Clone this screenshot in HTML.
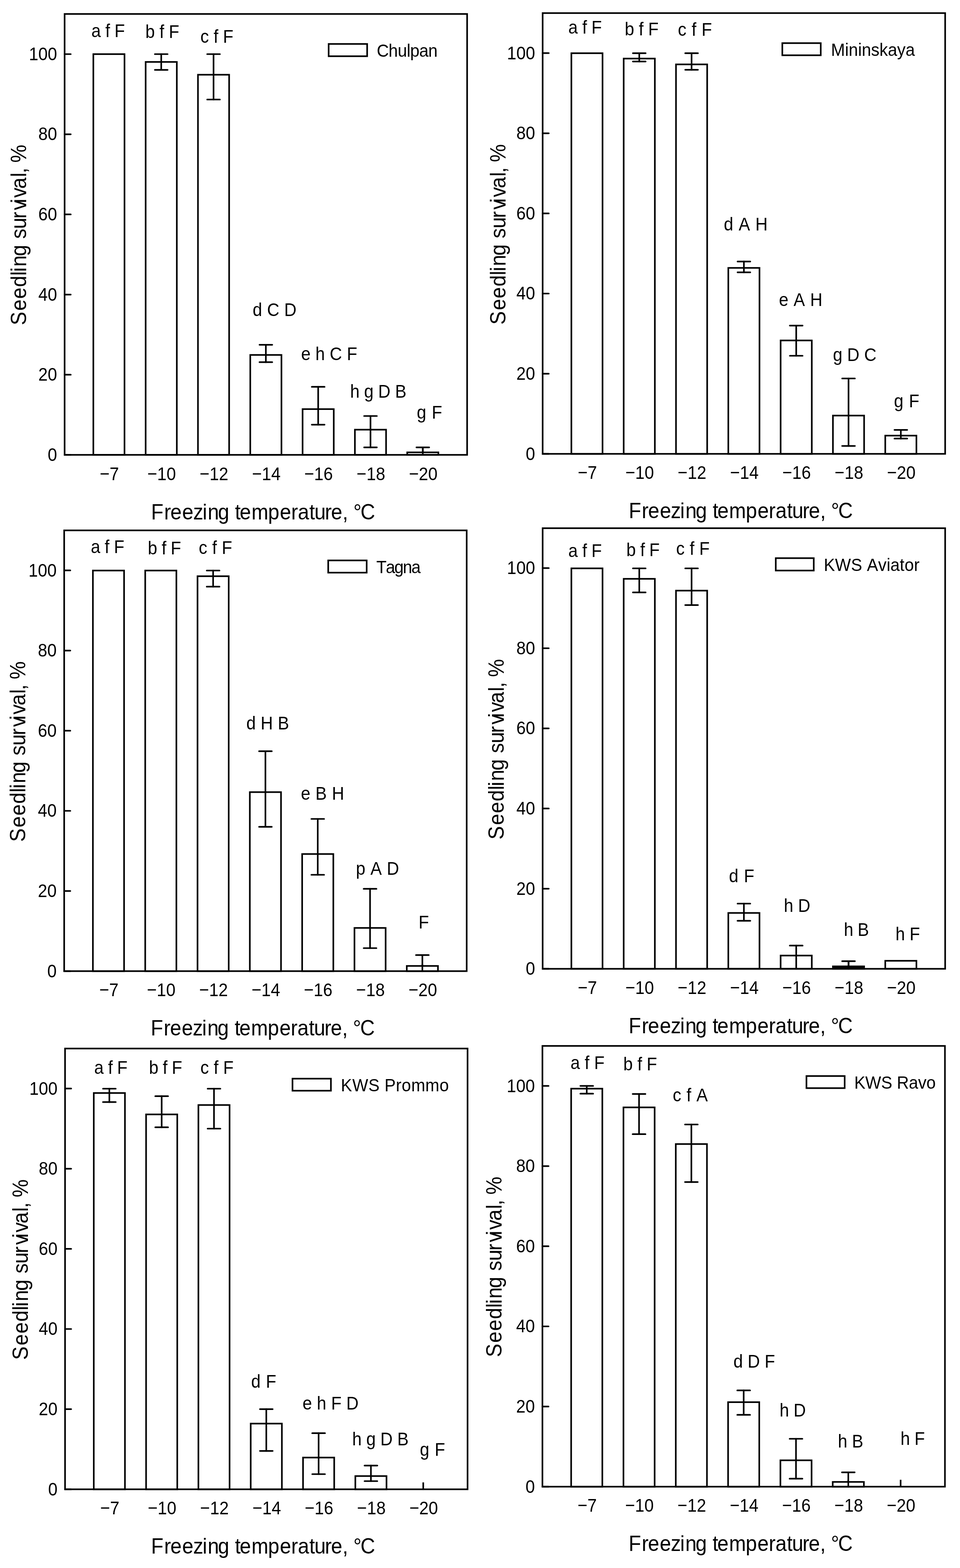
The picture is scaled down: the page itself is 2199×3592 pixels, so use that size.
<!DOCTYPE html>
<html><head><meta charset="utf-8"><title>Seedling survival</title>
<style>
html,body{margin:0;padding:0;background:#fff;overflow:hidden;}
svg{display:block;}
text{font-family:"Liberation Sans",Arial,sans-serif;fill:#000;font-kerning:none;font-variant-ligatures:none;}
.fr{fill:none;stroke:#000;stroke-width:3.7;}
.b{fill:#fff;stroke:#000;stroke-width:3.7;}
.bk{fill:#000;stroke:#000;stroke-width:3.7;}
.lg{fill:#fff;stroke:#000;stroke-width:3.7;}
.t{stroke:#000;stroke-width:3.7;stroke-linecap:round;}
.k{stroke:#000;stroke-width:3.7;}
.e{stroke:#000;stroke-width:3.7;stroke-linecap:round;}
</style></head>
<body>
<svg width="2199" height="3592" viewBox="0 0 2199 3592">
<rect width="2199" height="3592" fill="#fff"/>
<g><line x1="249.5" y1="1042" x2="249.5" y2="1026.15" class="k"/><line x1="369.33" y1="1042" x2="369.33" y2="1026.15" class="k"/><line x1="489.16" y1="1042" x2="489.16" y2="1026.15" class="k"/><line x1="608.99" y1="1042" x2="608.99" y2="1026.15" class="k"/><line x1="728.82" y1="1042" x2="728.82" y2="1026.15" class="k"/><line x1="848.65" y1="1042" x2="848.65" y2="1026.15" class="k"/><line x1="968.48" y1="1042" x2="968.48" y2="1026.15" class="k"/><line x1="148" y1="1042" x2="162" y2="1042" class="t"/><text transform="translate(130.7,1055.8) scale(1,1.1)" style="font-size:38.7px" text-anchor="end">0</text><line x1="148" y1="858.4" x2="162" y2="858.4" class="t"/><text transform="translate(130.7,872.2) scale(1,1.1)" style="font-size:38.7px" text-anchor="end">20</text><line x1="148" y1="674.8" x2="162" y2="674.8" class="t"/><text transform="translate(130.7,688.6) scale(1,1.1)" style="font-size:38.7px" text-anchor="end">40</text><line x1="148" y1="491.2" x2="162" y2="491.2" class="t"/><text transform="translate(130.7,505) scale(1,1.1)" style="font-size:38.7px" text-anchor="end">60</text><line x1="148" y1="307.6" x2="162" y2="307.6" class="t"/><text transform="translate(130.7,321.4) scale(1,1.1)" style="font-size:38.7px" text-anchor="end">80</text><line x1="148" y1="124" x2="162" y2="124" class="t"/><text transform="translate(130.7,137.8) scale(1,1.1)" style="font-size:38.7px" text-anchor="end">100</text><rect x="213.8" y="124" width="71.4" height="918" class="b"/><rect x="333.63" y="141.9" width="71.4" height="900.1" class="b"/><rect x="453.46" y="171.2" width="71.4" height="870.8" class="b"/><rect x="573.29" y="813.1" width="71.4" height="228.9" class="b"/><rect x="693.12" y="937.2" width="71.4" height="104.8" class="b"/><rect x="812.95" y="984.3" width="71.4" height="57.7" class="b"/><rect x="932.78" y="1036.3" width="71.4" height="5.7" class="b"/><line x1="369.33" y1="124" x2="369.33" y2="160.1" class="e"/><line x1="354.73" y1="124" x2="383.93" y2="124" class="e"/><line x1="354.73" y1="160.1" x2="383.93" y2="160.1" class="e"/><line x1="489.16" y1="124" x2="489.16" y2="228" class="e"/><line x1="474.56" y1="124" x2="503.76" y2="124" class="e"/><line x1="474.56" y1="228" x2="503.76" y2="228" class="e"/><line x1="608.99" y1="789.8" x2="608.99" y2="829.7" class="e"/><line x1="594.39" y1="789.8" x2="623.59" y2="789.8" class="e"/><line x1="594.39" y1="829.7" x2="623.59" y2="829.7" class="e"/><line x1="728.82" y1="886.2" x2="728.82" y2="972.8" class="e"/><line x1="714.22" y1="886.2" x2="743.42" y2="886.2" class="e"/><line x1="714.22" y1="972.8" x2="743.42" y2="972.8" class="e"/><line x1="848.65" y1="953" x2="848.65" y2="1024.8" class="e"/><line x1="834.05" y1="953" x2="863.25" y2="953" class="e"/><line x1="834.05" y1="1024.8" x2="863.25" y2="1024.8" class="e"/><line x1="968.48" y1="1024.8" x2="968.48" y2="1042" class="e"/><line x1="953.88" y1="1024.8" x2="983.08" y2="1024.8" class="e"/><rect x="148" y="32" width="922" height="1010" class="fr"/><text transform="translate(250.5,1099.5) scale(1,1.1)" style="font-size:38.7px" text-anchor="middle">−7</text><text transform="translate(370.33,1099.5) scale(1,1.1)" style="font-size:38.7px" text-anchor="middle">−10</text><text transform="translate(490.16,1099.5) scale(1,1.1)" style="font-size:38.7px" text-anchor="middle">−12</text><text transform="translate(609.99,1099.5) scale(1,1.1)" style="font-size:38.7px" text-anchor="middle">−14</text><text transform="translate(729.82,1099.5) scale(1,1.1)" style="font-size:38.7px" text-anchor="middle">−16</text><text transform="translate(849.65,1099.5) scale(1,1.1)" style="font-size:38.7px" text-anchor="middle">−18</text><text transform="translate(969.48,1099.5) scale(1,1.1)" style="font-size:38.7px" text-anchor="middle">−20</text><text transform="translate(209.24,85) scale(1,1.07)" style="font-size:39px;word-spacing:-0.6px">a f F</text><text transform="translate(332.99,86.6) scale(1,1.07)" style="font-size:39px;word-spacing:-0.17px">b f F</text><text transform="translate(458.94,98.1) scale(1,1.07)" style="font-size:39px;word-spacing:-0.11px">c f F</text><text transform="translate(578.86,724.2) scale(1,1.07)" style="font-size:39px;word-spacing:0.36px">d C D</text><text transform="translate(689.74,824.7) scale(1,1.07)" style="font-size:39px;word-spacing:0.21px">e h C F</text><text transform="translate(801.9,910.8) scale(1,1.07)" style="font-size:39px;word-spacing:-0.3px">h g D B</text><text transform="translate(954.86,958.7) scale(1,1.07)" style="font-size:39px;word-spacing:1.55px">g F</text><rect x="752.8" y="100.7" width="88.2" height="28.1" class="lg"/><text transform="translate(862.94,129.7) scale(1,1.06)" style="font-size:38.5px;letter-spacing:-0.63px">Chulpan</text><text transform="translate(59.8,742.9) rotate(-90) scale(1,1.08)" style="font-size:46.5px" x="-2.11 31.12 58.32 85.35 111.07 120.19 132.21 156.15 182.01 195.81 218.48 242.21 261.34 277.29 289.84 310.42 337.17 345.82 358.74 370.14" y="0">Seedling survival, %</text><text transform="translate(349.9,1190.1) scale(1,1.08)" style="font-size:46.5px" x="-3.81 26.01 40.42 67.32 92.52 113.99 125.91 149.35 175.21 188.4 199.22 226.01 264.2 291.22 317.01 332.32 358.6 370.38 394.31 408.42 434.72 447.64 459.63 475.94" y="0">Freezing temperature, °C</text></g>
<g><line x1="1344.5" y1="1039.7" x2="1344.5" y2="1023.85" class="k"/><line x1="1464.33" y1="1039.7" x2="1464.33" y2="1023.85" class="k"/><line x1="1584.16" y1="1039.7" x2="1584.16" y2="1023.85" class="k"/><line x1="1703.99" y1="1039.7" x2="1703.99" y2="1023.85" class="k"/><line x1="1823.82" y1="1039.7" x2="1823.82" y2="1023.85" class="k"/><line x1="1943.65" y1="1039.7" x2="1943.65" y2="1023.85" class="k"/><line x1="2063.48" y1="1039.7" x2="2063.48" y2="1023.85" class="k"/><line x1="1243" y1="1039.7" x2="1257" y2="1039.7" class="t"/><text transform="translate(1225.7,1053.5) scale(1,1.1)" style="font-size:38.7px" text-anchor="end">0</text><line x1="1243" y1="856.1" x2="1257" y2="856.1" class="t"/><text transform="translate(1225.7,869.9) scale(1,1.1)" style="font-size:38.7px" text-anchor="end">20</text><line x1="1243" y1="672.5" x2="1257" y2="672.5" class="t"/><text transform="translate(1225.7,686.3) scale(1,1.1)" style="font-size:38.7px" text-anchor="end">40</text><line x1="1243" y1="488.9" x2="1257" y2="488.9" class="t"/><text transform="translate(1225.7,502.7) scale(1,1.1)" style="font-size:38.7px" text-anchor="end">60</text><line x1="1243" y1="305.3" x2="1257" y2="305.3" class="t"/><text transform="translate(1225.7,319.1) scale(1,1.1)" style="font-size:38.7px" text-anchor="end">80</text><line x1="1243" y1="121.7" x2="1257" y2="121.7" class="t"/><text transform="translate(1225.7,135.5) scale(1,1.1)" style="font-size:38.7px" text-anchor="end">100</text><rect x="1308.8" y="121.9" width="71.4" height="917.8" class="b"/><rect x="1428.63" y="134.2" width="71.4" height="905.5" class="b"/><rect x="1548.46" y="147.5" width="71.4" height="892.2" class="b"/><rect x="1668.29" y="613.7" width="71.4" height="426" class="b"/><rect x="1788.12" y="779.9" width="71.4" height="259.8" class="b"/><rect x="1907.95" y="952" width="71.4" height="87.7" class="b"/><rect x="2027.78" y="997.9" width="71.4" height="41.8" class="b"/><line x1="1464.33" y1="121.9" x2="1464.33" y2="140.8" class="e"/><line x1="1449.73" y1="121.9" x2="1478.93" y2="121.9" class="e"/><line x1="1449.73" y1="140.8" x2="1478.93" y2="140.8" class="e"/><line x1="1584.16" y1="121.9" x2="1584.16" y2="159.8" class="e"/><line x1="1569.56" y1="121.9" x2="1598.76" y2="121.9" class="e"/><line x1="1569.56" y1="159.8" x2="1598.76" y2="159.8" class="e"/><line x1="1703.99" y1="599.1" x2="1703.99" y2="623.8" class="e"/><line x1="1689.39" y1="599.1" x2="1718.59" y2="599.1" class="e"/><line x1="1689.39" y1="623.8" x2="1718.59" y2="623.8" class="e"/><line x1="1823.82" y1="745.8" x2="1823.82" y2="815" class="e"/><line x1="1809.22" y1="745.8" x2="1838.42" y2="745.8" class="e"/><line x1="1809.22" y1="815" x2="1838.42" y2="815" class="e"/><line x1="1943.65" y1="867" x2="1943.65" y2="1021.6" class="e"/><line x1="1929.05" y1="867" x2="1958.25" y2="867" class="e"/><line x1="1929.05" y1="1021.6" x2="1958.25" y2="1021.6" class="e"/><line x1="2063.48" y1="984.8" x2="2063.48" y2="1004.7" class="e"/><line x1="2048.88" y1="984.8" x2="2078.08" y2="984.8" class="e"/><line x1="2048.88" y1="1004.7" x2="2078.08" y2="1004.7" class="e"/><rect x="1243" y="30" width="922" height="1009.7" class="fr"/><text transform="translate(1345.5,1097.2) scale(1,1.1)" style="font-size:38.7px" text-anchor="middle">−7</text><text transform="translate(1465.33,1097.2) scale(1,1.1)" style="font-size:38.7px" text-anchor="middle">−10</text><text transform="translate(1585.16,1097.2) scale(1,1.1)" style="font-size:38.7px" text-anchor="middle">−12</text><text transform="translate(1704.99,1097.2) scale(1,1.1)" style="font-size:38.7px" text-anchor="middle">−14</text><text transform="translate(1824.82,1097.2) scale(1,1.1)" style="font-size:38.7px" text-anchor="middle">−16</text><text transform="translate(1944.65,1097.2) scale(1,1.1)" style="font-size:38.7px" text-anchor="middle">−18</text><text transform="translate(2064.48,1097.2) scale(1,1.1)" style="font-size:38.7px" text-anchor="middle">−20</text><text transform="translate(1301.84,76.6) scale(1,1.07)" style="font-size:39px;word-spacing:-0.6px">a f F</text><text transform="translate(1430.99,80.8) scale(1,1.07)" style="font-size:39px;word-spacing:-0.17px">b f F</text><text transform="translate(1552.84,81.5) scale(1,1.07)" style="font-size:39px;word-spacing:1.09px">c f F</text><text transform="translate(1657.96,527.8) scale(1,1.07)" style="font-size:39px;word-spacing:1.49px">d A H</text><text transform="translate(1784.14,700.8) scale(1,1.07)" style="font-size:39px;word-spacing:1.1px">e A H</text><text transform="translate(1908.06,826.6) scale(1,1.07)" style="font-size:39px;word-spacing:-0.08px">g D C</text><text transform="translate(2047.86,933) scale(1,1.07)" style="font-size:39px;word-spacing:1.75px">g F</text><rect x="1792" y="98.8" width="88" height="27.8" class="lg"/><text transform="translate(1903.54,128) scale(1,1.06)" style="font-size:38.5px;letter-spacing:-0.05px">Mininskaya</text><text transform="translate(1157.8,741.7) rotate(-90) scale(1,1.08)" style="font-size:46.5px" x="-2.11 31.12 58.32 85.35 111.07 120.19 132.21 156.15 182.01 195.81 218.48 242.21 261.34 277.29 289.84 310.42 337.17 345.82 358.74 370.14" y="0">Seedling survival, %</text><text transform="translate(1444.1,1187.4) scale(1,1.08)" style="font-size:46.5px" x="-3.81 26.01 40.42 67.32 92.52 113.99 125.91 149.35 175.21 188.4 199.22 226.01 264.2 291.22 317.01 332.32 358.6 370.38 394.31 408.42 434.72 447.64 459.63 475.94" y="0">Freezing temperature, °C</text></g>
<g><line x1="248.5" y1="2224.7" x2="248.5" y2="2208.85" class="k"/><line x1="368.33" y1="2224.7" x2="368.33" y2="2208.85" class="k"/><line x1="488.16" y1="2224.7" x2="488.16" y2="2208.85" class="k"/><line x1="607.99" y1="2224.7" x2="607.99" y2="2208.85" class="k"/><line x1="727.82" y1="2224.7" x2="727.82" y2="2208.85" class="k"/><line x1="847.65" y1="2224.7" x2="847.65" y2="2208.85" class="k"/><line x1="967.48" y1="2224.7" x2="967.48" y2="2208.85" class="k"/><line x1="147" y1="2224.7" x2="161" y2="2224.7" class="t"/><text transform="translate(129.7,2238.5) scale(1,1.1)" style="font-size:38.7px" text-anchor="end">0</text><line x1="147" y1="2041.1" x2="161" y2="2041.1" class="t"/><text transform="translate(129.7,2054.9) scale(1,1.1)" style="font-size:38.7px" text-anchor="end">20</text><line x1="147" y1="1857.5" x2="161" y2="1857.5" class="t"/><text transform="translate(129.7,1871.3) scale(1,1.1)" style="font-size:38.7px" text-anchor="end">40</text><line x1="147" y1="1673.9" x2="161" y2="1673.9" class="t"/><text transform="translate(129.7,1687.7) scale(1,1.1)" style="font-size:38.7px" text-anchor="end">60</text><line x1="147" y1="1490.3" x2="161" y2="1490.3" class="t"/><text transform="translate(129.7,1504.1) scale(1,1.1)" style="font-size:38.7px" text-anchor="end">80</text><line x1="147" y1="1306.7" x2="161" y2="1306.7" class="t"/><text transform="translate(129.7,1320.5) scale(1,1.1)" style="font-size:38.7px" text-anchor="end">100</text><rect x="212.8" y="1307" width="71.4" height="917.7" class="b"/><rect x="332.63" y="1307" width="71.4" height="917.7" class="b"/><rect x="452.46" y="1320" width="71.4" height="904.7" class="b"/><rect x="572.29" y="1814.6" width="71.4" height="410.1" class="b"/><rect x="692.12" y="1956.4" width="71.4" height="268.3" class="b"/><rect x="811.95" y="2125.7" width="71.4" height="99" class="b"/><rect x="931.78" y="2212.8" width="71.4" height="11.9" class="b"/><line x1="488.16" y1="1307" x2="488.16" y2="1343.9" class="e"/><line x1="473.56" y1="1307" x2="502.76" y2="1307" class="e"/><line x1="473.56" y1="1343.9" x2="502.76" y2="1343.9" class="e"/><line x1="607.99" y1="1720.9" x2="607.99" y2="1894.1" class="e"/><line x1="593.39" y1="1720.9" x2="622.59" y2="1720.9" class="e"/><line x1="593.39" y1="1894.1" x2="622.59" y2="1894.1" class="e"/><line x1="727.82" y1="1876" x2="727.82" y2="2004" class="e"/><line x1="713.22" y1="1876" x2="742.42" y2="1876" class="e"/><line x1="713.22" y1="2004" x2="742.42" y2="2004" class="e"/><line x1="847.65" y1="2036.2" x2="847.65" y2="2172" class="e"/><line x1="833.05" y1="2036.2" x2="862.25" y2="2036.2" class="e"/><line x1="833.05" y1="2172" x2="862.25" y2="2172" class="e"/><line x1="967.48" y1="2187.9" x2="967.48" y2="2224.7" class="e"/><line x1="952.88" y1="2187.9" x2="982.08" y2="2187.9" class="e"/><rect x="147" y="1215" width="922" height="1009.7" class="fr"/><text transform="translate(249.5,2282.2) scale(1,1.1)" style="font-size:38.7px" text-anchor="middle">−7</text><text transform="translate(369.33,2282.2) scale(1,1.1)" style="font-size:38.7px" text-anchor="middle">−10</text><text transform="translate(489.16,2282.2) scale(1,1.1)" style="font-size:38.7px" text-anchor="middle">−12</text><text transform="translate(608.99,2282.2) scale(1,1.1)" style="font-size:38.7px" text-anchor="middle">−14</text><text transform="translate(728.82,2282.2) scale(1,1.1)" style="font-size:38.7px" text-anchor="middle">−16</text><text transform="translate(848.65,2282.2) scale(1,1.1)" style="font-size:38.7px" text-anchor="middle">−18</text><text transform="translate(968.48,2282.2) scale(1,1.1)" style="font-size:38.7px" text-anchor="middle">−20</text><text transform="translate(207.94,1266.6) scale(1,1.07)" style="font-size:39px;word-spacing:-0.6px">a f F</text><text transform="translate(338.39,1269.8) scale(1,1.07)" style="font-size:39px;word-spacing:-0.77px">b f F</text><text transform="translate(455.24,1268.6) scale(1,1.07)" style="font-size:39px;word-spacing:0.39px">c f F</text><text transform="translate(564.16,1671) scale(1,1.07)" style="font-size:39px;word-spacing:0.28px">d H B</text><text transform="translate(689.24,1832.4) scale(1,1.07)" style="font-size:39px;word-spacing:0.85px">e B H</text><text transform="translate(815.29,2003.7) scale(1,1.07)" style="font-size:39px;word-spacing:0.67px">p A D</text><text transform="translate(958.8,2127) scale(1,1.07)" style="font-size:39px">F</text><rect x="751.8" y="1283.8" width="88.1" height="28" class="lg"/><text transform="translate(862.04,1313.3) scale(1,1.06)" style="font-size:38.5px;letter-spacing:-1.88px">Tagna</text><text transform="translate(57.8,1926.5) rotate(-90) scale(1,1.08)" style="font-size:46.5px" x="-2.11 31.12 58.32 85.35 111.07 120.19 132.21 156.15 182.01 195.81 218.48 242.21 261.34 277.29 289.84 310.42 337.17 345.82 358.74 370.14" y="0">Seedling survival, %</text><text transform="translate(349,2372) scale(1,1.08)" style="font-size:46.5px" x="-3.81 26.01 40.42 67.32 92.52 113.99 125.91 149.35 175.21 188.4 199.22 226.01 264.2 291.22 317.01 332.32 358.6 370.38 394.31 408.42 434.72 447.64 459.63 475.94" y="0">Freezing temperature, °C</text></g>
<g><line x1="1344.5" y1="2219.4" x2="1344.5" y2="2203.55" class="k"/><line x1="1464.33" y1="2219.4" x2="1464.33" y2="2203.55" class="k"/><line x1="1584.16" y1="2219.4" x2="1584.16" y2="2203.55" class="k"/><line x1="1703.99" y1="2219.4" x2="1703.99" y2="2203.55" class="k"/><line x1="1823.82" y1="2219.4" x2="1823.82" y2="2203.55" class="k"/><line x1="1943.65" y1="2219.4" x2="1943.65" y2="2203.55" class="k"/><line x1="2063.48" y1="2219.4" x2="2063.48" y2="2203.55" class="k"/><line x1="1243" y1="2219.4" x2="1257" y2="2219.4" class="t"/><text transform="translate(1225.7,2233.2) scale(1,1.1)" style="font-size:38.7px" text-anchor="end">0</text><line x1="1243" y1="2035.8" x2="1257" y2="2035.8" class="t"/><text transform="translate(1225.7,2049.6) scale(1,1.1)" style="font-size:38.7px" text-anchor="end">20</text><line x1="1243" y1="1852.2" x2="1257" y2="1852.2" class="t"/><text transform="translate(1225.7,1866) scale(1,1.1)" style="font-size:38.7px" text-anchor="end">40</text><line x1="1243" y1="1668.6" x2="1257" y2="1668.6" class="t"/><text transform="translate(1225.7,1682.4) scale(1,1.1)" style="font-size:38.7px" text-anchor="end">60</text><line x1="1243" y1="1485" x2="1257" y2="1485" class="t"/><text transform="translate(1225.7,1498.8) scale(1,1.1)" style="font-size:38.7px" text-anchor="end">80</text><line x1="1243" y1="1301.4" x2="1257" y2="1301.4" class="t"/><text transform="translate(1225.7,1315.2) scale(1,1.1)" style="font-size:38.7px" text-anchor="end">100</text><rect x="1308.8" y="1302" width="71.4" height="917.4" class="b"/><rect x="1428.63" y="1326" width="71.4" height="893.4" class="b"/><rect x="1548.46" y="1353" width="71.4" height="866.4" class="b"/><rect x="1668.29" y="2091.4" width="71.4" height="128" class="b"/><rect x="1788.12" y="2189" width="71.4" height="30.4" class="b"/><rect x="1907.95" y="2213.75" width="71.4" height="5.65" class="bk"/><rect x="2027.78" y="2201" width="71.4" height="18.4" class="b"/><line x1="1464.33" y1="1302" x2="1464.33" y2="1357.1" class="e"/><line x1="1449.73" y1="1302" x2="1478.93" y2="1302" class="e"/><line x1="1449.73" y1="1357.1" x2="1478.93" y2="1357.1" class="e"/><line x1="1584.16" y1="1302" x2="1584.16" y2="1386.1" class="e"/><line x1="1569.56" y1="1302" x2="1598.76" y2="1302" class="e"/><line x1="1569.56" y1="1386.1" x2="1598.76" y2="1386.1" class="e"/><line x1="1703.99" y1="2070" x2="1703.99" y2="2109.3" class="e"/><line x1="1689.39" y1="2070" x2="1718.59" y2="2070" class="e"/><line x1="1689.39" y1="2109.3" x2="1718.59" y2="2109.3" class="e"/><line x1="1823.82" y1="2166.2" x2="1823.82" y2="2219.4" class="e"/><line x1="1809.22" y1="2166.2" x2="1838.42" y2="2166.2" class="e"/><line x1="1943.65" y1="2201.9" x2="1943.65" y2="2219.4" class="e"/><line x1="1929.05" y1="2201.9" x2="1958.25" y2="2201.9" class="e"/><rect x="1243" y="1210" width="922" height="1009.4" class="fr"/><text transform="translate(1345.5,2276.9) scale(1,1.1)" style="font-size:38.7px" text-anchor="middle">−7</text><text transform="translate(1465.33,2276.9) scale(1,1.1)" style="font-size:38.7px" text-anchor="middle">−10</text><text transform="translate(1585.16,2276.9) scale(1,1.1)" style="font-size:38.7px" text-anchor="middle">−12</text><text transform="translate(1704.99,2276.9) scale(1,1.1)" style="font-size:38.7px" text-anchor="middle">−14</text><text transform="translate(1824.82,2276.9) scale(1,1.1)" style="font-size:38.7px" text-anchor="middle">−16</text><text transform="translate(1944.65,2276.9) scale(1,1.1)" style="font-size:38.7px" text-anchor="middle">−18</text><text transform="translate(2064.48,2276.9) scale(1,1.1)" style="font-size:38.7px" text-anchor="middle">−20</text><text transform="translate(1301.84,1275.6) scale(1,1.07)" style="font-size:39px;word-spacing:-0.6px">a f F</text><text transform="translate(1434.69,1273.9) scale(1,1.07)" style="font-size:39px;word-spacing:-0.77px">b f F</text><text transform="translate(1548.84,1270.7) scale(1,1.07)" style="font-size:39px;word-spacing:0.49px">c f F</text><text transform="translate(1669.76,2020.8) scale(1,1.07)" style="font-size:39px;word-spacing:1.85px">d F</text><text transform="translate(1795.5,2089) scale(1,1.07)" style="font-size:39px;word-spacing:-0.12px">h D</text><text transform="translate(1932.9,2143.7) scale(1,1.07)" style="font-size:39px;word-spacing:-0.98px">h B</text><text transform="translate(2051.3,2153.7) scale(1,1.07)" style="font-size:39px;word-spacing:-0.28px">h F</text><rect x="1777" y="1278.6" width="87" height="28.4" class="lg"/><text transform="translate(1886.94,1307.7) scale(1,1.06)" style="font-size:38.5px;letter-spacing:0.12px">KWS Aviator</text><text transform="translate(1153.8,1921.1) rotate(-90) scale(1,1.08)" style="font-size:46.5px" x="-2.11 31.12 58.32 85.35 111.07 120.19 132.21 156.15 182.01 195.81 218.48 242.21 261.34 277.29 289.84 310.42 337.17 345.82 358.74 370.14" y="0">Seedling survival, %</text><text transform="translate(1443.9,2367.1) scale(1,1.08)" style="font-size:46.5px" x="-3.81 26.01 40.42 67.32 92.52 113.99 125.91 149.35 175.21 188.4 199.22 226.01 264.2 291.22 317.01 332.32 358.6 370.38 394.31 408.42 434.72 447.64 459.63 475.94" y="0">Freezing temperature, °C</text></g>
<g><line x1="250.5" y1="3411.7" x2="250.5" y2="3395.85" class="k"/><line x1="370.33" y1="3411.7" x2="370.33" y2="3395.85" class="k"/><line x1="490.16" y1="3411.7" x2="490.16" y2="3395.85" class="k"/><line x1="609.99" y1="3411.7" x2="609.99" y2="3395.85" class="k"/><line x1="729.82" y1="3411.7" x2="729.82" y2="3395.85" class="k"/><line x1="849.65" y1="3411.7" x2="849.65" y2="3395.85" class="k"/><line x1="969.48" y1="3411.7" x2="969.48" y2="3395.85" class="k"/><line x1="149" y1="3411.7" x2="163" y2="3411.7" class="t"/><text transform="translate(131.7,3425.5) scale(1,1.1)" style="font-size:38.7px" text-anchor="end">0</text><line x1="149" y1="3228.1" x2="163" y2="3228.1" class="t"/><text transform="translate(131.7,3241.9) scale(1,1.1)" style="font-size:38.7px" text-anchor="end">20</text><line x1="149" y1="3044.5" x2="163" y2="3044.5" class="t"/><text transform="translate(131.7,3058.3) scale(1,1.1)" style="font-size:38.7px" text-anchor="end">40</text><line x1="149" y1="2860.9" x2="163" y2="2860.9" class="t"/><text transform="translate(131.7,2874.7) scale(1,1.1)" style="font-size:38.7px" text-anchor="end">60</text><line x1="149" y1="2677.3" x2="163" y2="2677.3" class="t"/><text transform="translate(131.7,2691.1) scale(1,1.1)" style="font-size:38.7px" text-anchor="end">80</text><line x1="149" y1="2493.7" x2="163" y2="2493.7" class="t"/><text transform="translate(131.7,2507.5) scale(1,1.1)" style="font-size:38.7px" text-anchor="end">100</text><rect x="214.8" y="2503.9" width="71.4" height="907.8" class="b"/><rect x="334.63" y="2552.9" width="71.4" height="858.8" class="b"/><rect x="454.46" y="2531.4" width="71.4" height="880.3" class="b"/><rect x="574.29" y="3261.2" width="71.4" height="150.5" class="b"/><rect x="694.12" y="3339" width="71.4" height="72.7" class="b"/><rect x="813.95" y="3381.4" width="71.4" height="30.3" class="b"/><line x1="250.5" y1="2494" x2="250.5" y2="2524.7" class="e"/><line x1="235.9" y1="2494" x2="265.1" y2="2494" class="e"/><line x1="235.9" y1="2524.7" x2="265.1" y2="2524.7" class="e"/><line x1="370.33" y1="2511.2" x2="370.33" y2="2582.4" class="e"/><line x1="355.73" y1="2511.2" x2="384.93" y2="2511.2" class="e"/><line x1="355.73" y1="2582.4" x2="384.93" y2="2582.4" class="e"/><line x1="490.16" y1="2494" x2="490.16" y2="2585.5" class="e"/><line x1="475.56" y1="2494" x2="504.76" y2="2494" class="e"/><line x1="475.56" y1="2585.5" x2="504.76" y2="2585.5" class="e"/><line x1="609.99" y1="3228.1" x2="609.99" y2="3323.8" class="e"/><line x1="595.39" y1="3228.1" x2="624.59" y2="3228.1" class="e"/><line x1="595.39" y1="3323.8" x2="624.59" y2="3323.8" class="e"/><line x1="729.82" y1="3283.2" x2="729.82" y2="3377" class="e"/><line x1="715.22" y1="3283.2" x2="744.42" y2="3283.2" class="e"/><line x1="715.22" y1="3377" x2="744.42" y2="3377" class="e"/><line x1="849.65" y1="3357.3" x2="849.65" y2="3393" class="e"/><line x1="835.05" y1="3357.3" x2="864.25" y2="3357.3" class="e"/><line x1="835.05" y1="3393" x2="864.25" y2="3393" class="e"/><rect x="149" y="2402" width="922" height="1009.7" class="fr"/><text transform="translate(251.5,3469.2) scale(1,1.1)" style="font-size:38.7px" text-anchor="middle">−7</text><text transform="translate(371.33,3469.2) scale(1,1.1)" style="font-size:38.7px" text-anchor="middle">−10</text><text transform="translate(491.16,3469.2) scale(1,1.1)" style="font-size:38.7px" text-anchor="middle">−12</text><text transform="translate(610.99,3469.2) scale(1,1.1)" style="font-size:38.7px" text-anchor="middle">−14</text><text transform="translate(730.82,3469.2) scale(1,1.1)" style="font-size:38.7px" text-anchor="middle">−16</text><text transform="translate(850.65,3469.2) scale(1,1.1)" style="font-size:38.7px" text-anchor="middle">−18</text><text transform="translate(970.48,3469.2) scale(1,1.1)" style="font-size:38.7px" text-anchor="middle">−20</text><text transform="translate(215.84,2459.8) scale(1,1.07)" style="font-size:39px;word-spacing:-0.85px">a f F</text><text transform="translate(341.29,2459.8) scale(1,1.07)" style="font-size:39px;word-spacing:-1.02px">b f F</text><text transform="translate(458.94,2459.8) scale(1,1.07)" style="font-size:39px;word-spacing:0.14px">c f F</text><text transform="translate(575.16,3178.9) scale(1,1.07)" style="font-size:39px;word-spacing:1.35px">d F</text><text transform="translate(692.94,3229.2) scale(1,1.07)" style="font-size:39px;word-spacing:0.25px">e h F D</text><text transform="translate(806.8,3310.6) scale(1,1.07)" style="font-size:39px;word-spacing:-0.3px">h g D B</text><text transform="translate(961.76,3334.6) scale(1,1.07)" style="font-size:39px;word-spacing:1.55px">g F</text><rect x="670" y="2471" width="88" height="27.6" class="lg"/><text transform="translate(780.84,2499.7) scale(1,1.06)" style="font-size:38.5px;letter-spacing:0.4px">KWS Prommo</text><text transform="translate(63.9,3113.1) rotate(-90) scale(1,1.08)" style="font-size:46.5px" x="-2.11 31.12 58.32 85.35 111.07 120.19 132.21 156.15 182.01 195.81 218.48 242.21 261.34 277.29 289.84 310.42 337.17 345.82 358.74 370.14" y="0">Seedling survival, %</text><text transform="translate(349.9,3559.1) scale(1,1.08)" style="font-size:46.5px" x="-3.81 26.01 40.42 67.32 92.52 113.99 125.91 149.35 175.21 188.4 199.22 226.01 264.2 291.22 317.01 332.32 358.6 370.38 394.31 408.42 434.72 447.64 459.63 475.94" y="0">Freezing temperature, °C</text></g>
<g><line x1="1344" y1="3405.7" x2="1344" y2="3389.85" class="k"/><line x1="1463.83" y1="3405.7" x2="1463.83" y2="3389.85" class="k"/><line x1="1583.66" y1="3405.7" x2="1583.66" y2="3389.85" class="k"/><line x1="1703.49" y1="3405.7" x2="1703.49" y2="3389.85" class="k"/><line x1="1823.32" y1="3405.7" x2="1823.32" y2="3389.85" class="k"/><line x1="1943.15" y1="3405.7" x2="1943.15" y2="3389.85" class="k"/><line x1="2062.98" y1="3405.7" x2="2062.98" y2="3389.85" class="k"/><line x1="1242.5" y1="3405.7" x2="1256.5" y2="3405.7" class="t"/><text transform="translate(1225.2,3419.5) scale(1,1.1)" style="font-size:38.7px" text-anchor="end">0</text><line x1="1242.5" y1="3222.1" x2="1256.5" y2="3222.1" class="t"/><text transform="translate(1225.2,3235.9) scale(1,1.1)" style="font-size:38.7px" text-anchor="end">20</text><line x1="1242.5" y1="3038.5" x2="1256.5" y2="3038.5" class="t"/><text transform="translate(1225.2,3052.3) scale(1,1.1)" style="font-size:38.7px" text-anchor="end">40</text><line x1="1242.5" y1="2854.9" x2="1256.5" y2="2854.9" class="t"/><text transform="translate(1225.2,2868.7) scale(1,1.1)" style="font-size:38.7px" text-anchor="end">60</text><line x1="1242.5" y1="2671.3" x2="1256.5" y2="2671.3" class="t"/><text transform="translate(1225.2,2685.1) scale(1,1.1)" style="font-size:38.7px" text-anchor="end">80</text><line x1="1242.5" y1="2487.7" x2="1256.5" y2="2487.7" class="t"/><text transform="translate(1225.2,2501.5) scale(1,1.1)" style="font-size:38.7px" text-anchor="end">100</text><rect x="1308.3" y="2493.9" width="71.4" height="911.8" class="b"/><rect x="1428.13" y="2536.8" width="71.4" height="868.9" class="b"/><rect x="1547.96" y="2620.8" width="71.4" height="784.9" class="b"/><rect x="1667.79" y="3212.1" width="71.4" height="193.6" class="b"/><rect x="1787.62" y="3345.3" width="71.4" height="60.4" class="b"/><rect x="1907.45" y="3394.8" width="71.4" height="10.9" class="b"/><line x1="1344" y1="2487.7" x2="1344" y2="2505.4" class="e"/><line x1="1329.4" y1="2487.7" x2="1358.6" y2="2487.7" class="e"/><line x1="1329.4" y1="2505.4" x2="1358.6" y2="2505.4" class="e"/><line x1="1463.83" y1="2506.1" x2="1463.83" y2="2598.2" class="e"/><line x1="1449.23" y1="2506.1" x2="1478.43" y2="2506.1" class="e"/><line x1="1449.23" y1="2598.2" x2="1478.43" y2="2598.2" class="e"/><line x1="1583.66" y1="2576" x2="1583.66" y2="2707.8" class="e"/><line x1="1569.06" y1="2576" x2="1598.26" y2="2576" class="e"/><line x1="1569.06" y1="2707.8" x2="1598.26" y2="2707.8" class="e"/><line x1="1703.49" y1="3185.2" x2="1703.49" y2="3241.2" class="e"/><line x1="1688.89" y1="3185.2" x2="1718.09" y2="3185.2" class="e"/><line x1="1688.89" y1="3241.2" x2="1718.09" y2="3241.2" class="e"/><line x1="1823.32" y1="3296" x2="1823.32" y2="3387.4" class="e"/><line x1="1808.72" y1="3296" x2="1837.92" y2="3296" class="e"/><line x1="1808.72" y1="3387.4" x2="1837.92" y2="3387.4" class="e"/><line x1="1943.15" y1="3372.8" x2="1943.15" y2="3405.7" class="e"/><line x1="1928.55" y1="3372.8" x2="1957.75" y2="3372.8" class="e"/><rect x="1242.5" y="2396" width="922" height="1009.7" class="fr"/><text transform="translate(1345,3463.2) scale(1,1.1)" style="font-size:38.7px" text-anchor="middle">−7</text><text transform="translate(1464.83,3463.2) scale(1,1.1)" style="font-size:38.7px" text-anchor="middle">−10</text><text transform="translate(1584.66,3463.2) scale(1,1.1)" style="font-size:38.7px" text-anchor="middle">−12</text><text transform="translate(1704.49,3463.2) scale(1,1.1)" style="font-size:38.7px" text-anchor="middle">−14</text><text transform="translate(1824.32,3463.2) scale(1,1.1)" style="font-size:38.7px" text-anchor="middle">−16</text><text transform="translate(1944.15,3463.2) scale(1,1.1)" style="font-size:38.7px" text-anchor="middle">−18</text><text transform="translate(2063.98,3463.2) scale(1,1.1)" style="font-size:38.7px" text-anchor="middle">−20</text><text transform="translate(1306.74,2449.1) scale(1,1.07)" style="font-size:39px;word-spacing:-0px">a f F</text><text transform="translate(1427.79,2452) scale(1,1.07)" style="font-size:39px;word-spacing:-0.42px">b f F</text><text transform="translate(1541.04,2522.7) scale(1,1.07)" style="font-size:39px;word-spacing:1.11px">c f A</text><text transform="translate(1680.06,3133.1) scale(1,1.07)" style="font-size:39px;word-spacing:-0.07px">d D F</text><text transform="translate(1785.7,3244.7) scale(1,1.07)" style="font-size:39px;word-spacing:-0.42px">h D</text><text transform="translate(1919.2,3315.7) scale(1,1.07)" style="font-size:39px;word-spacing:-0.28px">h B</text><text transform="translate(2062.7,3310) scale(1,1.07)" style="font-size:39px;word-spacing:-0.48px">h F</text><rect x="1847.3" y="2465" width="87.5" height="27.7" class="lg"/><text transform="translate(1956.64,2493.5) scale(1,1.06)" style="font-size:38.5px;letter-spacing:-0.19px">KWS Ravo</text><text transform="translate(1148.9,3107) rotate(-90) scale(1,1.08)" style="font-size:46.5px" x="-2.11 31.12 58.32 85.35 111.07 120.19 132.21 156.15 182.01 195.81 218.48 242.21 261.34 277.29 289.84 310.42 337.17 345.82 358.74 370.14" y="0">Seedling survival, %</text><text transform="translate(1443.9,3553.1) scale(1,1.08)" style="font-size:46.5px" x="-3.81 26.01 40.42 67.32 92.52 113.99 125.91 149.35 175.21 188.4 199.22 226.01 264.2 291.22 317.01 332.32 358.6 370.38 394.31 408.42 434.72 447.64 459.63 475.94" y="0">Freezing temperature, °C</text></g>
</svg>
</body></html>
